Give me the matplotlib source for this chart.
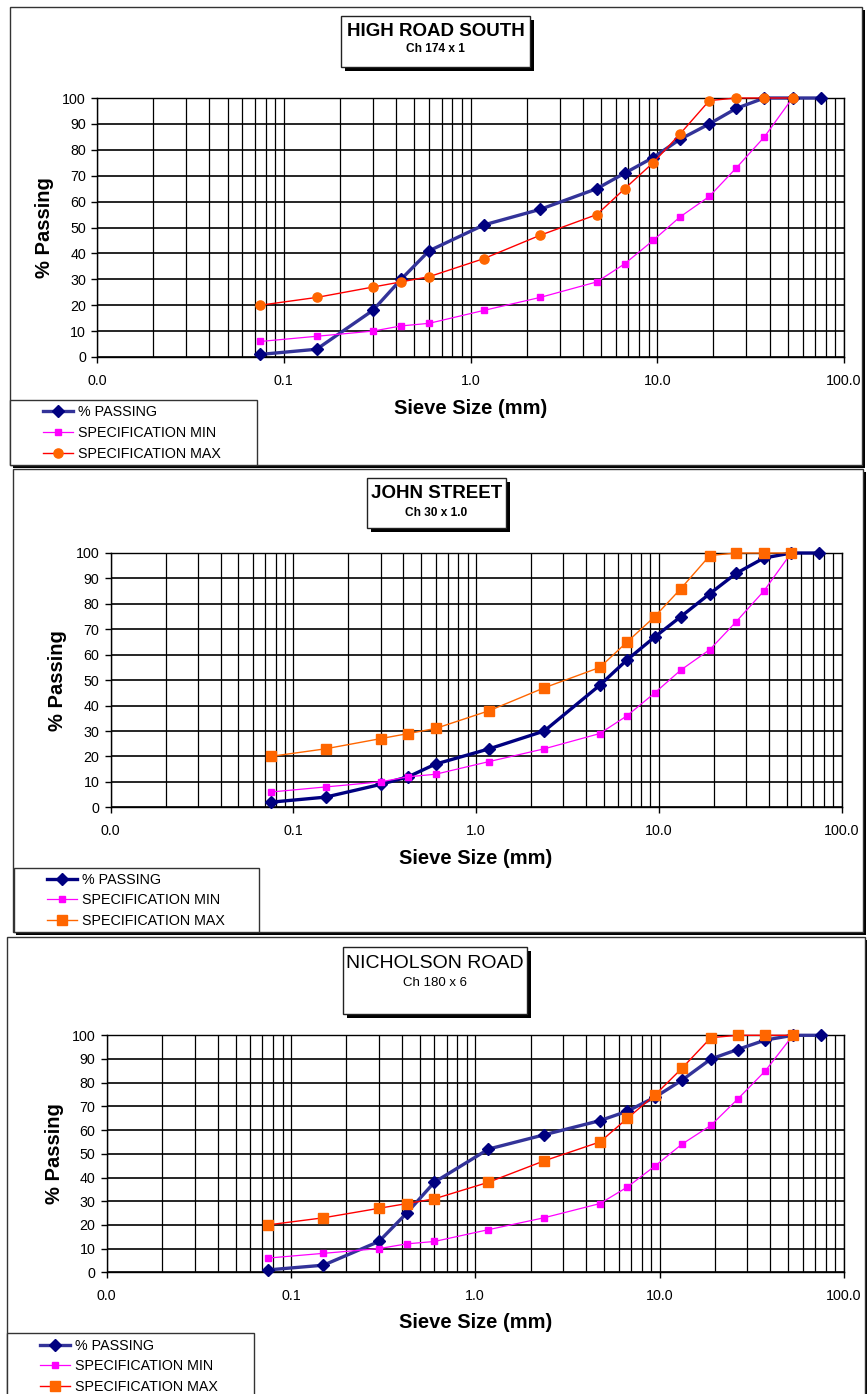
import matplotlib
matplotlib.use('Agg')
import matplotlib.pyplot as plt
from matplotlib.patches import Rectangle
from matplotlib.ticker import FixedLocator, NullFormatter

plt.rcParams['font.family'] = ['Liberation Sans', 'DejaVu Sans']

# ---------------- data ----------------
sieve_sizes = [0.075, 0.15, 0.3, 0.425, 0.6, 1.18, 2.36, 4.75, 6.7, 9.5, 13.2, 19, 26.5, 37.5, 53, 75]
spec_sizes = [0.075, 0.15, 0.3, 0.425, 0.6, 1.18, 2.36, 4.75, 6.7, 9.5, 13.2, 19, 26.5, 37.5, 53]
spec_min = [6, 8, 10, 12, 13, 18, 23, 29, 36, 45, 54, 62, 73, 85, 100]
spec_max = [20, 23, 27, 29, 31, 38, 47, 55, 65, 75, 86, 99, 100, 100, 100]
passing_high_road_south = [1, 3, 18, 30, 41, 51, 57, 65, 71, 77, 84, 90, 96, 100, 100, 100]
passing_john_street = [2, 4, 9, 12, 17, 23, 30, 48, 58, 67, 75, 84, 92, 98, 100, 100]
passing_nicholson_road = [1, 3, 13, 25, 38, 52, 58, 64, 68, 74, 81, 90, 94, 98, 100, 100]
titles = ["HIGH ROAD SOUTH", "JOHN STREET", "NICHOLSON ROAD"]
subtitles = ["Ch 174 x 1", "Ch 30 x 1.0", "Ch 180 x 6"]
x_tick_values = [0.01, 0.1, 1, 10, 100]
x_tick_labels = ["0.0", "0.1", "1.0", "10.0", "100.0"]
y_tick_values = [0, 10, 20, 30, 40, 50, 60, 70, 80, 90, 100]
legend_labels = ["% PASSING", "SPECIFICATION MIN", "SPECIFICATION MAX"]
x_label = "Sieve Size (mm)"
y_label = "% Passing"

# ---------------- layout (pixels) ----------------
W, H = 867, 1394
fig = plt.figure(figsize=(W / 100, H / 100), dpi=100)


def fx(x):
    return x / W


def fy(y):
    return 1 - y / H


def rect(x0, y0, x1, y1, **kw):
    fig.add_artist(Rectangle((fx(x0), fy(y1)), (x1 - x0) / W, (y1 - y0) / H,
                             transform=fig.transFigure, **kw))


panels = [
    dict(panel=(10, 7, 862, 465), axes=(97, 98, 844, 357),
         tbox=(341, 16, 530, 67), ty=(31.5, 49.5), tbold=True, tsize=(13.5, 8.6),
         legbox=(10, 400, 257, 465), leg_x=43, leg_y=433,
         ylab_x=44, xlab_y=408,
         passing=passing_high_road_south, pcol='#333399', pmk='#000080',
         maxline='#FF0000', maxmk='o', maxms=6.6),
    dict(panel=(13, 469, 863, 932), axes=(110.6, 553, 841.6, 807.3),
         tbox=(367, 478, 506, 528), ty=(493, 513), tbold=True, tsize=(13.5, 8.6),
         legbox=(14, 868, 259, 932), leg_x=47, leg_y=900.5,
         ylab_x=58, xlab_y=858,
         passing=passing_john_street, pcol='#000080', pmk='#000080',
         maxline='#FF6600', maxmk='s', maxms=6.8),
    dict(panel=(7, 937, 865, 1405), axes=(106.7, 1035.3, 843.8, 1272.3),
         tbox=(343, 947, 527, 1014), ty=(963, 983), tbold=False, tsize=(14, 9.5),
         legbox=(7, 1333, 254, 1405), leg_x=40, leg_y=1366.5,
         ylab_x=54, xlab_y=1323,
         passing=passing_nicholson_road, pcol='#333399', pmk='#000080',
         maxline='#FF0000', maxmk='s', maxms=6.8),
]

for i, p in enumerate(panels):
    # chart area with shadow
    x0, y0, x1, y1 = p['panel']
    rect(x0 + 3, y0 + 3, x1 + 3, y1 + 3, facecolor='black', edgecolor='none', zorder=0.1)
    rect(x0, y0, x1, y1, facecolor='white', edgecolor='#333333', lw=1, zorder=0.2)

    # legend box (below axes layer so the legend itself is visible)
    lx0, ly0, lx1, ly1 = p['legbox']
    rect(lx0, ly0, lx1, ly1, facecolor='white', edgecolor='#333333', lw=1, zorder=0.3)

    # plot area
    l, t, r, b = p['axes']
    ax = fig.add_axes([fx(l), fy(b), (r - l) / W, (b - t) / H])
    ax.set_zorder(1)
    ax.patch.set_alpha(0)
    ax.set_xscale('log')
    ax.set_xlim(0.01, 100)
    ax.set_ylim(0, 100)
    ax.set_xticks(x_tick_values)
    ax.set_xticklabels(x_tick_labels)
    ax.xaxis.set_minor_locator(FixedLocator(
        [m * d for d in [0.01, 0.1, 1, 10] for m in range(2, 10)]))
    ax.xaxis.set_minor_formatter(NullFormatter())
    ax.set_yticks(y_tick_values)
    ax.tick_params(axis='both', which='major', direction='out', length=4, width=1,
                   labelsize=10.3, colors='black')
    ax.tick_params(axis='x', which='major', pad=8)
    ax.tick_params(axis='y', which='major', pad=4)
    ax.tick_params(axis='x', which='minor', length=0)
    ax.grid(True, which='both', axis='x', color='black', lw=0.9)
    ax.grid(True, which='major', axis='y', color='black', lw=1.2)
    ax.set_axisbelow(True)
    for s in ax.spines.values():
        s.set_color('black')
        s.set_linewidth(1)

    h1, = ax.plot(sieve_sizes, p['passing'], color=p['pcol'], lw=2.4, marker='D',
                  ms=6.5, mfc=p['pmk'], mec=p['pmk'], zorder=3, clip_on=False)
    h2, = ax.plot(spec_sizes, spec_min, color='#FF00FF', lw=0.9, marker='s',
                  ms=3.8, mfc='#FF00FF', mec='#FF00FF', zorder=4, clip_on=False)
    h3, = ax.plot(spec_sizes, spec_max, color=p['maxline'], lw=1.0, marker=p['maxmk'],
                  ms=p['maxms'], mfc='#FF6600', mec='#FF6600', zorder=5, clip_on=False)

    ax.set_xlabel(x_label, fontsize=14.5, fontweight='bold', va='center')
    ax.xaxis.set_label_coords(fx((l + r) / 2), fy(p['xlab_y']), transform=fig.transFigure)
    ax.set_ylabel(y_label, fontsize=14.5, fontweight='bold', va='center')
    ax.yaxis.set_label_coords(fx(p['ylab_x']), fy((t + b) / 2), transform=fig.transFigure)

    # title box with shadow
    bx0, by0, bx1, by1 = p['tbox']
    rect(bx0 + 4, by0 + 4, bx1 + 4, by1 + 4, facecolor='black', edgecolor='none', zorder=6)
    rect(bx0, by0, bx1, by1, facecolor='white', edgecolor='#222222', lw=1, zorder=7)
    fw = 'bold' if p['tbold'] else 'normal'
    fig.text(fx((bx0 + bx1) / 2), fy(p['ty'][0]), titles[i],
             ha='center', va='center', fontsize=p['tsize'][0], fontweight=fw, zorder=8)
    fig.text(fx((bx0 + bx1) / 2), fy(p['ty'][1]), subtitles[i],
             ha='center', va='center', fontsize=p['tsize'][1], fontweight=fw, zorder=8)

    leg = ax.legend([h1, h2, h3], legend_labels, loc='center left',
                    bbox_to_anchor=(fx(p['leg_x']), fy(p['leg_y'])),
                    bbox_transform=fig.transFigure, frameon=False, borderpad=0,
                    handlelength=2.1, handletextpad=0.35, labelspacing=0.46,
                    fontsize=10.3, borderaxespad=0)

fig.savefig('out.png', dpi=100)
